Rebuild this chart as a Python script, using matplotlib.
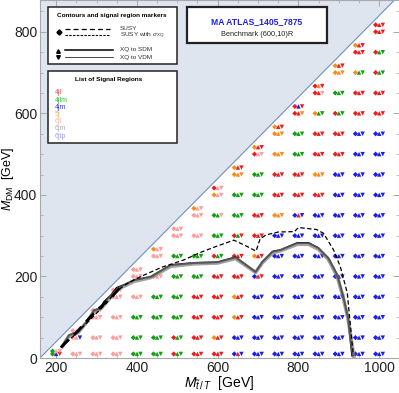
import matplotlib
matplotlib.use("Agg")
import matplotlib.pyplot as plt
import matplotlib.transforms as mtransforms
from matplotlib.patches import Rectangle
from matplotlib.lines import Line2D
from matplotlib.ticker import MultipleLocator
import numpy as np

plt.rcParams["font.family"] = ["Liberation Sans", "DejaVu Sans"]
plt.rcParams["mathtext.fontset"] = "custom"
plt.rcParams["mathtext.rm"] = "Liberation Sans"
plt.rcParams["mathtext.it"] = "Liberation Sans:italic"

# benchmark grid: columns in M_T, rows in M_DM
MT_COLUMNS = [200, 250, 300, 350, 400, 450, 500, 550, 600, 650, 700, 750, 800, 850, 900, 950, 1000]
MDM_ROWS = [10, 50, 100, 150, 200, 250, 300, 350, 400, 450, 500, 550, 600, 650, 700, 750, 800]
MDM_EDGE = [17, 67, 117, 167, 217, 267, 317, 367, 417, 467, 517, 567, 617, 667, 717, 767, 817]

# best signal region per point (bottom -> top, edge point last);
# one letter = all three markers, three letters = diamond / up / down
SR_CODES = [
    "gbr gpp",
    "p ppb p",
    "p p p p",
    "p p p p p",
    "g g g p p p",
    "g g g g p p opp",
    "rgg rgg g g g g p p",
    "r r r r g g p p opp",
    "r orr r r r rgg g ggp opp rpp",
    "brb b orr orr r r rgr g g o orr",
    "b b b b brr orr r r g g rpp orr",
    "b b b b b b b o r r o o orr",
    "b b b b b b b brb r r g g rro rbr",
    "b b b b b b b b r o r r ogg rrp ror",
    "b b b b b b b b b b r r rgg g o orr",
    "b b b b b b b b b b b b r r ogg r orr",
    "b b b b b b b b b b b b r r rgg rgg r r",
]

SR_NAMES = ["4jl", "4jlm", "4jm", "5j", "6jl", "6jm", "6jtp"]
SR_KEYS = ["r", "g", "b", "o", "p", "k", "v"]
MARK_COLORS = ["#ee1c1c", "#12a012", "#1c1cee", "#ff8a1a", "#ff9c9c", "#a0a0a0", "#8c8cff"]
TEXT_COLORS = ["#ff5050", "#33bb33", "#3a3aff", "#ffa850", "#ffb0b0", "#a8a8a8", "#9a9aff"]

# exclusion contours
SUSY_MT = [212, 228, 246, 266, 284, 300, 320, 338, 352, 362]
SUSY_MDM = [26, 42, 58, 80, 100, 116, 134, 150, 166, 176]

SIG_MT = [212, 250, 290, 320, 350, 380, 410, 460, 515, 560, 600, 640, 670, 695, 705, 720, 750,
          790, 800, 845, 862, 887, 904, 921, 928, 936]
SIG_MDM = [26, 60, 100, 130, 165, 185, 200, 222, 240, 260, 275, 289, 275, 262, 292, 302, 309,
           310, 320, 315, 306, 265, 223, 159, 86, 6]

SDM_MT = [215, 232, 254, 279, 294, 311, 318, 336, 350, 370, 393, 434, 484, 541, 600, 644, 694,
          711, 736, 756, 797, 825, 849, 874, 896, 911, 923, 933]
SDM_MDM = [30, 56, 64, 93, 117, 122, 137, 154, 172, 180, 191, 199, 228, 233, 235, 247, 211,
           236, 261, 265, 282, 282, 270, 245, 204, 150, 98, 6]

VDM_MT = [215, 232, 254, 279, 294, 311, 336, 355, 393, 434, 484, 541, 600, 644, 694, 711, 736,
          756, 797, 825, 849, 874, 896, 911, 923, 937]
VDM_MDM = [28, 54, 62, 92, 115, 121, 150, 170, 188, 197, 225, 231, 233, 244, 210, 234, 258,
           263, 279, 279, 267, 242, 200, 148, 95, 4]

W, H = 399, 393
fig = plt.figure(figsize=(W / 100, H / 100), dpi=100)
ax = fig.add_axes([40 / W, 35 / H, 359 / W, 358 / H])
ax.set_xlim(160, 1049)
ax.set_ylim(0, 878)

# kinematically forbidden region
edge = np.array([160, 1060])
ax.fill_between(edge, edge - 160, 1000, color="#dfe5ee", lw=0, zorder=0)
ax.plot(edge, edge - 160, color="#6f8fc4", lw=0.8, zorder=1)

# signal region markers
groups = {"D": ([], [], []), "^": ([], [], []), "v": ([], [], [])}
for mt, codes, top in zip(MT_COLUMNS, SR_CODES, MDM_EDGE):
    ys = [m for m in MDM_ROWS if m < top] + [top]
    for y, code in zip(ys, codes.split()):
        if len(code) == 1:
            code = code * 3
        for mk, c in zip(["D", "^", "v"], code):
            groups[mk][0].append(mt)
            groups[mk][1].append(y)
            groups[mk][2].append(MARK_COLORS[SR_KEYS.index(c)])

offsets = {"D": -3.6, "^": 0.0, "v": 3.6}
sizes = {"D": 7, "^": 10, "v": 10}
for mk, (xs, ys, cs) in groups.items():
    tr = mtransforms.offset_copy(ax.transData, fig=fig, x=offsets[mk], y=0, units="dots")
    ax.scatter(xs, ys, marker=mk, s=sizes[mk], c=cs, linewidths=0, transform=tr, zorder=3)

# contours
ax.plot(SDM_MT, SDM_MDM, color="black", lw=1.4, zorder=4)
ax.plot(VDM_MT, VDM_MDM, color="#7a7a7a", lw=2.6, alpha=0.7, zorder=5)
ax.plot(SIG_MT, SIG_MDM, color="black", lw=0.9, ls=(0, (3.5, 2)), zorder=5)
ax.plot(SUSY_MT, SUSY_MDM, color="black", lw=2.0, ls=(0, (4, 2.5)), zorder=5)

# axes styling
for s in ax.spines.values():
    s.set_color("#a8a8a8")
    s.set_linewidth(0.8)
ax.xaxis.set_major_locator(MultipleLocator(200))
ax.yaxis.set_major_locator(MultipleLocator(200))
ax.xaxis.set_minor_locator(MultipleLocator(50))
ax.yaxis.set_minor_locator(MultipleLocator(50))
ax.tick_params(which="both", direction="in", top=True, right=True, color="#a8a8a8",
               labelsize=10, labelcolor="#222222")
ax.tick_params(which="major", length=4, width=0.7, pad=2)
ax.tick_params(which="minor", length=2, width=0.5)
ax.set_xlabel(r"$M_{\tilde{t}\,/\,T}$  [GeV]", fontsize=10)
ax.set_ylabel(r"$M_{\mathrm{DM}}$  [GeV]", fontsize=9)
ax.xaxis.set_label_coords(0.5, -0.045)
ax.yaxis.set_label_coords(-0.066, 0.5)


def px(x, y):
    return x / W, 1 - y / H


def box(x0, y0, x1, y1, lw=1.1):
    fx, fy = px(x0, y1)
    fig.add_artist(Rectangle((fx, fy), (x1 - x0) / W, (y1 - y0) / H, transform=fig.transFigure,
                             facecolor="white", edgecolor="#222222", lw=lw, zorder=10))


def ftext(x, y, s, **kw):
    fx, fy = px(x, y)
    fig.text(fx, fy, s, va="center", zorder=11, **kw)


def fline(x0, x1, y, **kw):
    fx0, fy = px(x0, y)
    fx1, _ = px(x1, y)
    fig.add_artist(Line2D([fx0, fx1], [fy, fy], transform=fig.transFigure, zorder=11, **kw))


def fmark(x, y, mk, size):
    fx, fy = px(x, y)
    fig.add_artist(Line2D([fx], [fy], marker=mk, markersize=size, color="black", lw=0,
                          transform=fig.transFigure, zorder=11))


# legend: contours and markers
box(48, 7, 177, 64)
ftext(112, 15, "Contours and signal region markers", fontsize=4.6, fontweight="bold", ha="center")
fmark(59, 32, "D", 2.6)
fline(65, 110, 29, color="black", lw=0.9, ls=(0, (4, 2.5)))
fline(65, 110, 35, color="black", lw=0.8, ls=(0, (2.2, 1.2)))
ftext(120, 29, "SUSY", fontsize=4.6, color="#333333")
ftext(120, 36, r"SUSY with $\sigma_{\mathrm{XQ}}$", fontsize=4.6, color="#333333")
fmark(58, 51, "^", 2.6)
fmark(58, 57, "v", 2.6)
fline(65, 113, 50, color="black", lw=1.1)
fline(65, 113, 57, color="black", lw=0.5)
ftext(120, 50, "XQ to SDM", fontsize=4.6, color="#333333")
ftext(120, 57, "XQ to VDM", fontsize=4.6, color="#333333")

# legend: signal regions
box(48, 71, 177, 143)
ftext(109, 79, "List of Signal Regions", fontsize=4.6, fontweight="bold", ha="center")
for i, (name, col) in enumerate(zip(SR_NAMES, TEXT_COLORS)):
    ftext(55, 93 + i * 7.2, name, fontsize=5, color=col)

# analysis label
box(187, 7, 327, 43, lw=1.6)
ftext(257, 22, "MA ATLAS_1405_7875", fontsize=6.2, fontweight="bold", color="#2020ee", ha="center")
ftext(257, 35, "Benchmark (600,10)R", fontsize=5.3, color="#222222", ha="center")

fig.savefig("out.png", dpi=100)
